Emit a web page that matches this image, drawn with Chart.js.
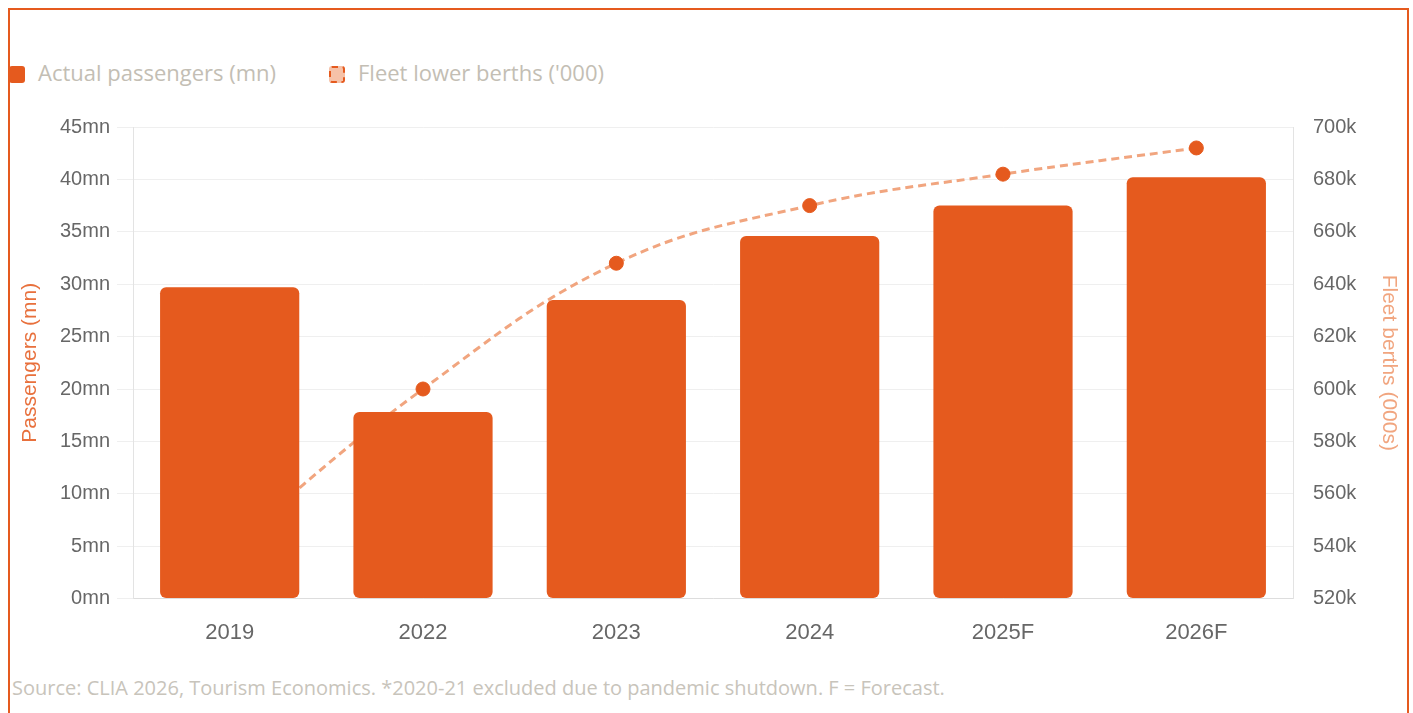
<!DOCTYPE html>
<html>
<head>
<meta charset="utf-8">
<script src="https://cdn.jsdelivr.net/npm/chart.js@4.4.1/dist/chart.umd.min.js"></script>
<style>
  html, body { margin: 0; padding: 0; background: #fff; }
  body { width: 1413px; height: 713px; overflow: hidden; position: relative; }
  .frame { position: absolute; left: 8px; top: 8px; width: 1397px; height: 800px; border: 2px solid #e55a1e; }
  .legend { position: absolute; left: 9px; top: 57px; font-family: "Open Sans", sans-serif; font-size: 22px; color: #c3beb4; }
  .legend span.item { position: absolute; white-space: nowrap; top: 0; }
  .legend i { display: inline-block; width: 16px; height: 17px; border-radius: 3px; vertical-align: -2px; margin-right: 13px; box-sizing: border-box; }
  .chart-box { position: absolute; left: 9px; top: 95px; width: 1396px; height: 568px; }
  .source { position: absolute; left: 12px; top: 674px; font-family: "Open Sans", sans-serif; font-size: 20px; color: #c8c4bb; white-space: nowrap; }
</style>
</head>
<body>
<div class="frame"></div>
<div class="legend" id="legend"></div>
<div class="chart-box"><canvas id="chart"></canvas></div>
<div class="source">Source: CLIA 2026, Tourism Economics. *2020-21 excluded due to pandemic shutdown. F = Forecast.</div>
<script>
const years = ['2019', '2022', '2023', '2024', '2025F', '2026F'];
const passengers = [29.7, 17.8, 28.5, 34.6, 37.5, 40.2];   // mn
const berths = [540, 600, 648, 670, 682, 692];             // '000
const legendNames = ['Actual passengers (mn)', "Fleet lower berths ('000)"];

const orange = '#e55a1e';
const peach = '#f1a57f';
const tickGrey = '#676767';

const ctx = document.getElementById('chart').getContext('2d');
const chart = new Chart(ctx, {
  type: 'bar',
  data: {
    labels: years,
    datasets: [
      {
        label: legendNames[0],
        data: passengers,
        backgroundColor: orange,
        borderRadius: 6,
        borderSkipped: false,
        yAxisID: 'y',
        order: 1,
      },
      {
        type: 'line',
        label: legendNames[1],
        data: berths,
        borderColor: peach,
        borderWidth: 3,
        borderDash: [8, 5],
        tension: 0.4,
        fill: false,
        pointRadius: 7,
        pointBackgroundColor: orange,
        pointBorderColor: orange,
        pointBorderWidth: 1,
        yAxisID: 'y1',
        order: 2,
      },
    ],
  },
  options: {
    responsive: true,
    maintainAspectRatio: false,
    animation: false,
    layout: { padding: { top: 9, bottom: 4, left: 0, right: 0 } },
    plugins: {
      legend: { display: false },
      tooltip: { enabled: false },
    },
    scales: {
      x: {
        grid: { display: false },
        border: { color: '#dddddd' },
        ticks: { color: tickGrey, padding: 13, font: { family: 'Liberation Sans, Arial', size: 22 } },
      },
      y: {
        position: 'left',
        min: 0,
        max: 45,
        ticks: {
          stepSize: 5,
          color: tickGrey,
          padding: 7,
          font: { family: 'Liberation Sans, Arial', size: 20 },
          callback: (v) => v + 'mn',
        },
        grid: { color: '#efefef', tickLength: 16 },
        border: { color: '#e3e3e3' },
        title: {
          display: true,
          text: 'Passengers (mn)',
          color: '#e8703c',
          padding: { top: 9, bottom: 4 },
          font: { family: 'Liberation Sans, Arial', size: 21 },
        },
        afterFit: (s) => { s.width = 124; },
      },
      y1: {
        position: 'right',
        min: 520,
        max: 700,
        ticks: {
          stepSize: 20,
          color: tickGrey,
          padding: 20,
          font: { family: 'Liberation Sans, Arial', size: 20 },
          callback: (v) => v + 'k',
        },
        grid: { drawOnChartArea: false, drawTicks: false },
        border: { color: '#e3e3e3' },
        title: {
          display: true,
          text: 'Fleet berths (000s)',
          color: peach,
          padding: { top: 4, bottom: 6 },
          font: { family: 'Liberation Sans, Arial', size: 21 },
        },
        afterFit: (s) => { s.width = 112; },
      },
    },
  },
});

// html legend built from the chart's datasets
const legendEl = document.getElementById('legend');
const itemX = [0, 320];
chart.data.datasets.forEach((ds, i) => {
  const item = document.createElement('span');
  item.className = 'item';
  item.style.left = itemX[i] + 'px';
  const box = document.createElement('i');
  if (ds.type === 'line') {
    box.style.background = '#f6c2a8';
    box.style.border = '2px dashed ' + orange;
  } else {
    box.style.background = ds.backgroundColor;
  }
  item.appendChild(box);
  item.appendChild(document.createTextNode(ds.label));
  legendEl.appendChild(item);
});
</script>
</body>
</html>
